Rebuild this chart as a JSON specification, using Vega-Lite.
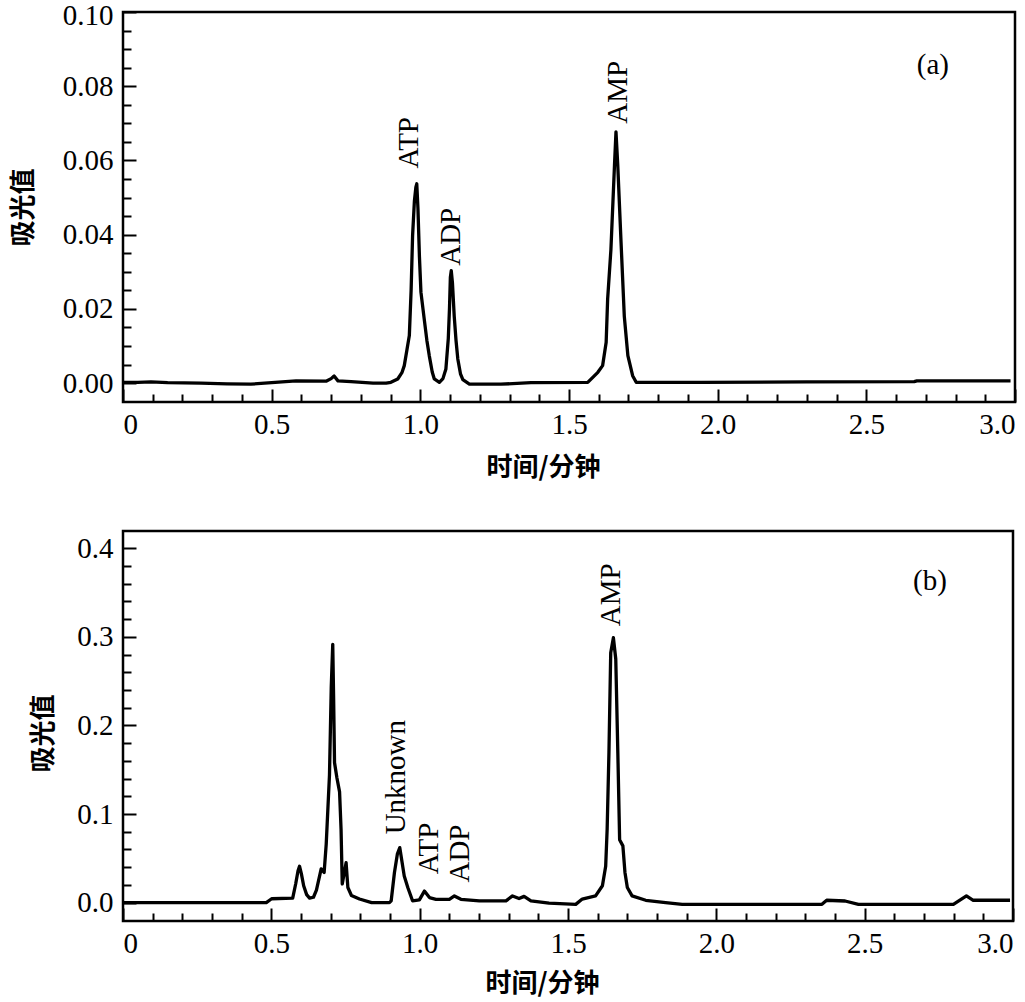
{
  "$schema": "https://vega.github.io/schema/vega-lite/v6.json",
  "background": "white",
  "padding": {"left": 8, "top": -1, "right": 0, "bottom": 0},
  "bounds": "flush",
  "spacing": 129,
  "config": {
    "view": {"stroke": "black", "strokeWidth": 2.5},
    "axis": {"grid": false, "domain": false, "tickColor": "black", "tickWidth": 2, "labelColor": "black", "titleColor": "black", "labelFont": "Liberation Serif", "labelFontSize": 29, "titleFont": "Noto Sans CJK SC", "titleFontWeight": "bold", "titleFontSize": 26}
  },
  "datasets": {
    "a": [
      {"t": 0, "v": 0.0002}, {"t": 0.05, "v": 0.0002}, {"t": 0.094, "v": 0.0003}, {"t": 0.15, "v": 0.0001}, {"t": 0.262, "v": 0.0}, {"t": 0.35, "v": -0.0002}, {"t": 0.43, "v": -0.0003}, {"t": 0.5, "v": 0.0001}, {"t": 0.582, "v": 0.0006}, {"t": 0.683, "v": 0.0005}, {"t": 0.7, "v": 0.0012}, {"t": 0.71, "v": 0.0019}, {"t": 0.723, "v": 0.0006}, {"t": 0.767, "v": 0.0004}, {"t": 0.841, "v": 0.0}, {"t": 0.885, "v": 0.0}, {"t": 0.901, "v": 0.0002}, {"t": 0.924, "v": 0.0011}, {"t": 0.938, "v": 0.0028}, {"t": 0.946, "v": 0.0047}, {"t": 0.955, "v": 0.009}, {"t": 0.963, "v": 0.0128}, {"t": 0.969, "v": 0.025}, {"t": 0.974, "v": 0.0398}, {"t": 0.98, "v": 0.049}, {"t": 0.985, "v": 0.0528}, {"t": 0.988, "v": 0.0537}, {"t": 0.992, "v": 0.047}, {"t": 0.997, "v": 0.034}, {"t": 1.002, "v": 0.0245}, {"t": 1.013, "v": 0.0173}, {"t": 1.022, "v": 0.0115}, {"t": 1.03, "v": 0.0074}, {"t": 1.04, "v": 0.003}, {"t": 1.047, "v": 0.0011}, {"t": 1.064, "v": 0.0002}, {"t": 1.076, "v": 0.0012}, {"t": 1.086, "v": 0.0038}, {"t": 1.094, "v": 0.012}, {"t": 1.098, "v": 0.02}, {"t": 1.101, "v": 0.0285}, {"t": 1.104, "v": 0.0303}, {"t": 1.108, "v": 0.027}, {"t": 1.114, "v": 0.018}, {"t": 1.12, "v": 0.0115}, {"t": 1.126, "v": 0.0065}, {"t": 1.135, "v": 0.0025}, {"t": 1.143, "v": 0.0009}, {"t": 1.165, "v": -0.0003}, {"t": 1.271, "v": -0.0003}, {"t": 1.372, "v": 0.0001}, {"t": 1.563, "v": 0.0002}, {"t": 1.597, "v": 0.0029}, {"t": 1.613, "v": 0.0047}, {"t": 1.625, "v": 0.011}, {"t": 1.63, "v": 0.0227}, {"t": 1.641, "v": 0.036}, {"t": 1.653, "v": 0.0587}, {"t": 1.658, "v": 0.0677}, {"t": 1.664, "v": 0.0587}, {"t": 1.675, "v": 0.038}, {"t": 1.686, "v": 0.018}, {"t": 1.698, "v": 0.0074}, {"t": 1.714, "v": 0.002}, {"t": 1.726, "v": 0.0002}, {"t": 1.944, "v": 0.0002}, {"t": 2.3, "v": 0.0003}, {"t": 2.661, "v": 0.0004}, {"t": 2.67, "v": 0.0006}, {"t": 2.985, "v": 0.0006}
    ],
    "b": [
      {"t": 0, "v": 0}, {"t": 0.08, "v": 0.0}, {"t": 0.3, "v": 0.0}, {"t": 0.483, "v": 0.0}, {"t": 0.501, "v": 0.0043}, {"t": 0.572, "v": 0.005}, {"t": 0.582, "v": 0.021}, {"t": 0.59, "v": 0.036}, {"t": 0.595, "v": 0.041}, {"t": 0.601, "v": 0.033}, {"t": 0.609, "v": 0.019}, {"t": 0.619, "v": 0.009}, {"t": 0.629, "v": 0.005}, {"t": 0.642, "v": 0.006}, {"t": 0.652, "v": 0.014}, {"t": 0.668, "v": 0.038}, {"t": 0.678, "v": 0.034}, {"t": 0.685, "v": 0.066}, {"t": 0.696, "v": 0.144}, {"t": 0.702, "v": 0.244}, {"t": 0.707, "v": 0.2915}, {"t": 0.71, "v": 0.23}, {"t": 0.713, "v": 0.158}, {"t": 0.721, "v": 0.141}, {"t": 0.73, "v": 0.125}, {"t": 0.735, "v": 0.083}, {"t": 0.739, "v": 0.021}, {"t": 0.745, "v": 0.032}, {"t": 0.752, "v": 0.045}, {"t": 0.758, "v": 0.017}, {"t": 0.77, "v": 0.008}, {"t": 0.797, "v": 0.004}, {"t": 0.838, "v": 0.0}, {"t": 0.898, "v": 0.0}, {"t": 0.904, "v": 0.002}, {"t": 0.915, "v": 0.034}, {"t": 0.925, "v": 0.055}, {"t": 0.933, "v": 0.062}, {"t": 0.948, "v": 0.03}, {"t": 0.96, "v": 0.017}, {"t": 0.976, "v": 0.002}, {"t": 0.999, "v": 0.003}, {"t": 1.016, "v": 0.013}, {"t": 1.033, "v": 0.0056}, {"t": 1.055, "v": 0.0037}, {"t": 1.1, "v": 0.0037}, {"t": 1.117, "v": 0.0075}, {"t": 1.139, "v": 0.0037}, {"t": 1.201, "v": 0.002}, {"t": 1.291, "v": 0.002}, {"t": 1.313, "v": 0.0075}, {"t": 1.335, "v": 0.0045}, {"t": 1.352, "v": 0.007}, {"t": 1.375, "v": 0.002}, {"t": 1.436, "v": -0.0007}, {"t": 1.526, "v": -0.002}, {"t": 1.548, "v": 0.004}, {"t": 1.593, "v": 0.0075}, {"t": 1.616, "v": 0.019}, {"t": 1.627, "v": 0.041}, {"t": 1.632, "v": 0.083}, {"t": 1.638, "v": 0.169}, {"t": 1.644, "v": 0.282}, {"t": 1.653, "v": 0.299}, {"t": 1.661, "v": 0.275}, {"t": 1.668, "v": 0.169}, {"t": 1.674, "v": 0.071}, {"t": 1.685, "v": 0.064}, {"t": 1.692, "v": 0.034}, {"t": 1.7, "v": 0.017}, {"t": 1.716, "v": 0.0075}, {"t": 1.762, "v": 0.0026}, {"t": 1.829, "v": 0.0}, {"t": 1.885, "v": -0.002}, {"t": 2.356, "v": -0.002}, {"t": 2.372, "v": 0.0026}, {"t": 2.434, "v": 0.0018}, {"t": 2.479, "v": -0.002}, {"t": 2.799, "v": -0.002}, {"t": 2.843, "v": 0.0075}, {"t": 2.866, "v": 0.0026}, {"t": 2.99, "v": 0.0026}
    ],
    "labA": [
      {"t": 0.962, "v": 0.0578, "label": "ATP"},
      {"t": 1.103, "v": 0.0316, "label": "ADP"},
      {"t": 1.665, "v": 0.0699, "label": "AMP"}
    ],
    "panelA": [{"t": 2.724, "v": 0.0856, "label": "(a)"}],
    "labB": [
      {"t": 0.921, "v": 0.077, "label": "Unknown"},
      {"t": 1.033, "v": 0.032, "label": "ATP"},
      {"t": 1.136, "v": 0.0226, "label": "ADP"},
      {"t": 1.644, "v": 0.312, "label": "AMP"}
    ],
    "panelB": [{"t": 2.72, "v": 0.363, "label": "(b)"}]
  },
  "vconcat": [
    {
      "width": 892,
      "height": 390,
      "resolve": {"axis": {"x": "independent", "y": "independent"}},
      "layer": [
        {
          "data": {"name": "a"},
          "mark": {"type": "line", "color": "black", "strokeWidth": 3.3, "strokeJoin": "round"},
          "encoding": {
            "x": {"field": "t", "type": "quantitative", "scale": {"domain": [0, 3], "nice": false, "zero": false},
              "axis": {"orient": "bottom", "values": [0, 0.5, 1, 1.5, 2, 2.5, 3], "labelExpr": "datum.value == 0 ? '0' : format(datum.value, '.1f')", "tickSize": -13, "labelPadding": 21, "labelFlush": true, "labelOverlap": false, "title": "时间/分钟", "titleX": 420, "titleY": 65, "titleAlign": "center", "titleBaseline": "middle"}},
            "y": {"field": "v", "type": "quantitative", "scale": {"domain": [-0.0051, 0.1], "nice": false, "zero": false},
              "axis": {"orient": "left", "values": [0, 0.02, 0.04, 0.06, 0.08, 0.1], "format": ".2f", "tickSize": -13, "labelPadding": 23, "labelOffset": {"condition": {"test": "datum.value > 0.09", "value": 3}, "value": 0}, "labelOverlap": false, "labelFlush": false, "title": "吸光值", "titleAngle": 270, "titleX": -100, "titleY": 195, "titleAlign": "center", "titleBaseline": "middle"}}
          }
        },
        {
          "data": {"name": "labA"},
          "mark": {"type": "text", "font": "Liberation Serif", "fontSize": 29, "angle": 270, "align": "left", "baseline": "middle", "color": "black"},
          "encoding": {
            "x": {"field": "t", "type": "quantitative", "scale": {"domain": [0, 3], "nice": false, "zero": false},
              "axis": {"orient": "bottom", "values": [0.1, 0.2, 0.3, 0.4, 0.6, 0.7, 0.8, 0.9, 1.1, 1.2, 1.3, 1.4, 1.6, 1.7, 1.8, 1.9, 2.1, 2.2, 2.3, 2.4, 2.6, 2.7, 2.8, 2.9], "labels": false, "tickSize": -8, "title": null}},
            "y": {"field": "v", "type": "quantitative", "scale": {"domain": [-0.0051, 0.1], "nice": false, "zero": false},
              "axis": {"orient": "left", "values": [0.005, 0.01, 0.015, 0.025, 0.03, 0.035, 0.045, 0.05, 0.055, 0.065, 0.07, 0.075, 0.085, 0.09, 0.095], "labels": false, "tickSize": -8, "title": null}},
            "text": {"field": "label"}
          }
        },
        {
          "data": {"name": "panelA"},
          "mark": {"type": "text", "font": "Liberation Serif", "fontSize": 29, "align": "center", "baseline": "middle", "color": "black"},
          "encoding": {
            "x": {"field": "t", "type": "quantitative", "axis": null},
            "y": {"field": "v", "type": "quantitative", "axis": null},
            "text": {"field": "label"}
          }
        }
      ]
    },
    {
      "width": 890,
      "height": 390,
      "resolve": {"axis": {"x": "independent", "y": "independent"}},
      "layer": [
        {
          "data": {"name": "b"},
          "mark": {"type": "line", "color": "black", "strokeWidth": 3.3, "strokeJoin": "round"},
          "encoding": {
            "x": {"field": "t", "type": "quantitative", "scale": {"domain": [0, 3], "nice": false, "zero": false},
              "axis": {"orient": "bottom", "values": [0, 0.5, 1, 1.5, 2, 2.5, 3], "labelExpr": "datum.value == 0 ? '0' : format(datum.value, '.1f')", "tickSize": -13, "labelPadding": 21, "labelFlush": true, "labelOverlap": false, "title": "时间/分钟", "titleX": 419, "titleY": 62, "titleAlign": "center", "titleBaseline": "middle"}},
            "y": {"field": "v", "type": "quantitative", "scale": {"domain": [-0.0208, 0.4195], "nice": false, "zero": false},
              "axis": {"orient": "left", "values": [0, 0.1, 0.2, 0.3, 0.4], "format": ".1f", "tickSize": -13, "labelPadding": 23, "labelOverlap": false, "labelFlush": false, "title": "吸光值", "titleAngle": 270, "titleX": -80, "titleY": 202, "titleAlign": "center", "titleBaseline": "middle"}}
          }
        },
        {
          "data": {"name": "labB"},
          "mark": {"type": "text", "font": "Liberation Serif", "fontSize": 29, "angle": 270, "align": "left", "baseline": "middle", "color": "black"},
          "encoding": {
            "x": {"field": "t", "type": "quantitative", "scale": {"domain": [0, 3], "nice": false, "zero": false},
              "axis": {"orient": "bottom", "values": [0.1, 0.2, 0.3, 0.4, 0.6, 0.7, 0.8, 0.9, 1.1, 1.2, 1.3, 1.4, 1.6, 1.7, 1.8, 1.9, 2.1, 2.2, 2.3, 2.4, 2.6, 2.7, 2.8, 2.9], "labels": false, "tickSize": -8, "title": null}},
            "y": {"field": "v", "type": "quantitative", "scale": {"domain": [-0.0208, 0.4195], "nice": false, "zero": false},
              "axis": {"orient": "left", "values": [0.02, 0.04, 0.06, 0.08, 0.12, 0.14, 0.16, 0.18, 0.22, 0.24, 0.26, 0.28, 0.32, 0.34, 0.36, 0.38], "labels": false, "tickSize": -8, "title": null}},
            "text": {"field": "label"}
          }
        },
        {
          "data": {"name": "panelB"},
          "mark": {"type": "text", "font": "Liberation Serif", "fontSize": 29, "align": "center", "baseline": "middle", "color": "black"},
          "encoding": {
            "x": {"field": "t", "type": "quantitative", "axis": null},
            "y": {"field": "v", "type": "quantitative", "axis": null},
            "text": {"field": "label"}
          }
        }
      ]
    }
  ]
}
